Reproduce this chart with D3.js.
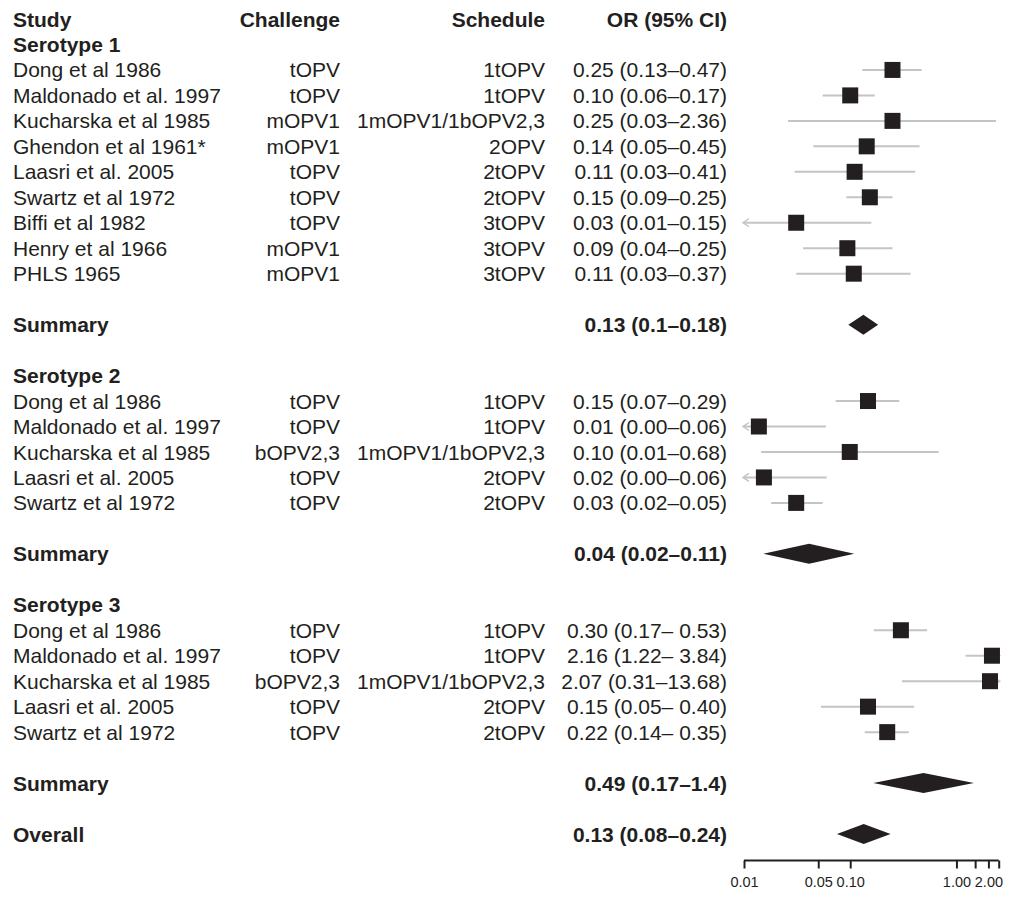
<!DOCTYPE html>
<html>
<head>
<meta charset="utf-8">
<script src="https://cdn.jsdelivr.net/npm/d3@7"></script>
<style>
  html, body { margin: 0; padding: 0; background: #ffffff; }
  svg { display: block; }
  text { font-family: "Liberation Sans", Arial, Helvetica, sans-serif; fill: #231f20; }
</style>
</head>
<body>
<svg id="chart" width="1026" height="903"></svg>
<script>
// ---------- DATA ----------
const headers = ["Study", "Challenge", "Schedule", "OR (95% CI)"];
const groupNames = ["Serotype 1", "Serotype 2", "Serotype 3"];

const studyGroup = [0,0,0,0,0,0,0,0,0, 1,1,1,1,1, 2,2,2,2,2];
const studyNames = [
  "Dong et al 1986", "Maldonado et al. 1997", "Kucharska et al 1985", "Ghendon et al 1961*",
  "Laasri et al. 2005", "Swartz et al 1972", "Biffi et al 1982", "Henry et al 1966", "PHLS 1965",
  "Dong et al 1986", "Maldonado et al. 1997", "Kucharska et al 1985", "Laasri et al. 2005", "Swartz et al 1972",
  "Dong et al 1986", "Maldonado et al. 1997", "Kucharska et al 1985", "Laasri et al. 2005", "Swartz et al 1972"
];
const challenge = [
  "tOPV", "tOPV", "mOPV1", "mOPV1", "tOPV", "tOPV", "tOPV", "mOPV1", "mOPV1",
  "tOPV", "tOPV", "bOPV2,3", "tOPV", "tOPV",
  "tOPV", "tOPV", "bOPV2,3", "tOPV", "tOPV"
];
const schedule = [
  "1tOPV", "1tOPV", "1mOPV1/1bOPV2,3", "2OPV", "2tOPV", "2tOPV", "3tOPV", "3tOPV", "3tOPV",
  "1tOPV", "1tOPV", "1mOPV1/1bOPV2,3", "2tOPV", "2tOPV",
  "1tOPV", "1tOPV", "1mOPV1/1bOPV2,3", "2tOPV", "2tOPV"
];
const orEst  = [0.25, 0.10, 0.25, 0.143, 0.11, 0.153, 0.031, 0.094, 0.108,
                0.147, 0.0138, 0.099, 0.0154, 0.031,
                0.30, 2.16, 2.07, 0.147, 0.223];
const orLow  = [0.13, 0.055, 0.026, 0.045, 0.03, 0.092, 0.006, 0.036, 0.031,
                0.073, 0.004, 0.0145, 0.004, 0.018,
                0.167, 1.22, 0.307, 0.053, 0.137];
const orHigh = [0.47, 0.17, 2.36, 0.45, 0.41, 0.25, 0.158, 0.25, 0.37,
                0.29, 0.059, 0.68, 0.06, 0.055,
                0.53, 3.84, 13.68, 0.40, 0.355];
const orLabels = [
  "0.25 (0.13\u20130.47)", "0.10 (0.06\u20130.17)", "0.25 (0.03\u20132.36)", "0.14 (0.05\u20130.45)",
  "0.11 (0.03\u20130.41)", "0.15 (0.09\u20130.25)", "0.03 (0.01\u20130.15)", "0.09 (0.04\u20130.25)",
  "0.11 (0.03\u20130.37)",
  "0.15 (0.07\u20130.29)", "0.01 (0.00\u20130.06)", "0.10 (0.01\u20130.68)", "0.02 (0.00\u20130.06)",
  "0.03 (0.02\u20130.05)",
  "0.30 (0.17\u2013 0.53)", "2.16 (1.22\u2013 3.84)", "2.07 (0.31\u201313.68)", "0.15 (0.05\u2013 0.40)",
  "0.22 (0.14\u2013 0.35)"
];

const summaryEst    = [0.133, 0.041, 0.49];
const summaryLow    = [0.096, 0.0152, 0.165];
const summaryHigh   = [0.183, 0.109, 1.46];
const summaryLabels = ["0.13 (0.1\u20130.18)", "0.04 (0.02\u20130.11)", "0.49 (0.17\u20131.4)"];

const overallEst = 0.134, overallLow = 0.075, overallHigh = 0.24;
const overallLabel = "0.13 (0.08\u20130.24)";

const axisTicks      = [0.01, 0.05, 0.1, 1, 1.5, 2, 2.5];
const axisTickLabels = ["0.01", "0.05", "0.10", "1.00", "", "2.00", ""];

// ---------- LAYOUT ----------
const svg = d3.select("#chart");
const fs = 21;
const ink = "#231f20";
const ciColor = "#c4c4c4";

// build row list
const rows = [];
rows.push({type: "header"});
groupNames.forEach((g, gi) => {
  rows.push({type: "group", name: g});
  studyNames.forEach((s, i) => { if (studyGroup[i] === gi) rows.push({type: "study", i}); });
  rows.push({type: "blank"});
  rows.push({type: "summary", gi});
  rows.push({type: "blank"});
});
rows.push({type: "overall"});

const y = d3.scaleLinear().domain([0, rows.length - 1]).range([19, 834]);
const x = d3.scaleLog().domain([0.01, 2.5]).range([744, 998.7]);
const clipLo = 0.01, clipHi = 2.5;

const colX = {study: 13, challenge: 340, schedule: 545, or: 727};
const base = fs * 0.36;

function txt(xp, yp, s, anchor, bold) {
  svg.append("text")
    .attr("x", xp).attr("y", yp + base)
    .attr("text-anchor", anchor)
    .attr("font-size", fs)
    .attr("font-weight", bold ? "bold" : "normal")
    .text(s);
}

const gCI = svg.append("g");
const gMarks = svg.append("g");

function diamond(est, lo, hi, yc) {
  const h = 10;
  gMarks.append("path")
    .attr("d", `M${x(lo)},${yc} L${x(est)},${yc - h} L${x(hi)},${yc} L${x(est)},${yc + h} Z`)
    .attr("fill", ink);
}

rows.forEach((r, ri) => {
  const yc = y(ri);
  if (r.type === "header") {
    txt(colX.study, yc, headers[0], "start", true);
    txt(colX.challenge, yc, headers[1], "end", true);
    txt(colX.schedule, yc, headers[2], "end", true);
    txt(colX.or, yc, headers[3], "end", true);
  } else if (r.type === "group") {
    txt(colX.study, yc, r.name, "start", true);
  } else if (r.type === "study") {
    const i = r.i;
    txt(colX.study, yc, studyNames[i], "start", false);
    txt(colX.challenge, yc, challenge[i], "end", false);
    txt(colX.schedule, yc, schedule[i], "end", false);
    txt(colX.or, yc, orLabels[i], "end", false);
    const lo = Math.max(orLow[i], clipLo), hi = Math.min(orHigh[i], clipHi);
    gCI.append("line")
      .attr("x1", x(lo)).attr("x2", x(hi))
      .attr("y1", yc).attr("y2", yc)
      .attr("stroke", ciColor).attr("stroke-width", 2);
    if (orLow[i] < clipLo) {
      const ax = x(clipLo) - 1;
      gCI.append("path")
        .attr("d", `M${ax + 6},${yc - 4} L${ax},${yc} L${ax + 6},${yc + 4}`)
        .attr("fill", "none").attr("stroke", ciColor).attr("stroke-width", 1.5);
    }
    if (orHigh[i] > clipHi) {
      const ax = x(clipHi) + 1;
      gCI.append("path")
        .attr("d", `M${ax - 6},${yc - 4} L${ax},${yc} L${ax - 6},${yc + 4}`)
        .attr("fill", "none").attr("stroke", ciColor).attr("stroke-width", 1.5);
    }
    const s = 16;
    gMarks.append("rect")
      .attr("x", x(orEst[i]) - s / 2).attr("y", yc - s / 2)
      .attr("width", s).attr("height", s)
      .attr("fill", ink);
  } else if (r.type === "summary") {
    txt(colX.study, yc, "Summary", "start", true);
    txt(colX.or, yc, summaryLabels[r.gi], "end", true);
    diamond(summaryEst[r.gi], summaryLow[r.gi], summaryHigh[r.gi], yc);
  } else if (r.type === "overall") {
    txt(colX.study, yc, "Overall", "start", true);
    txt(colX.or, yc, overallLabel, "end", true);
    diamond(overallEst, overallLow, overallHigh, yc);
  }
});

// ---------- AXIS ----------
const axisY = 860.5;
const axis = d3.axisBottom(x)
  .tickValues(axisTicks)
  .tickFormat((d, i) => axisTickLabels[i])
  .tickSize(8)
  .tickSizeOuter(0)
  .tickPadding(8);
const gAxis = svg.append("g").attr("transform", `translate(0,${axisY})`).call(axis);
gAxis.select(".domain").attr("stroke", ink).attr("stroke-width", 2)
  .attr("d", `M${x(0.01)},0H${x(2.5)}`);
gAxis.selectAll(".tick line").attr("stroke", ink).attr("stroke-width", 2);
gAxis.selectAll(".tick text")
  .attr("font-size", 14.5)
  .attr("font-family", "'Liberation Sans', Arial, Helvetica, sans-serif")
  .attr("fill", ink);
</script>
</body>
</html>
